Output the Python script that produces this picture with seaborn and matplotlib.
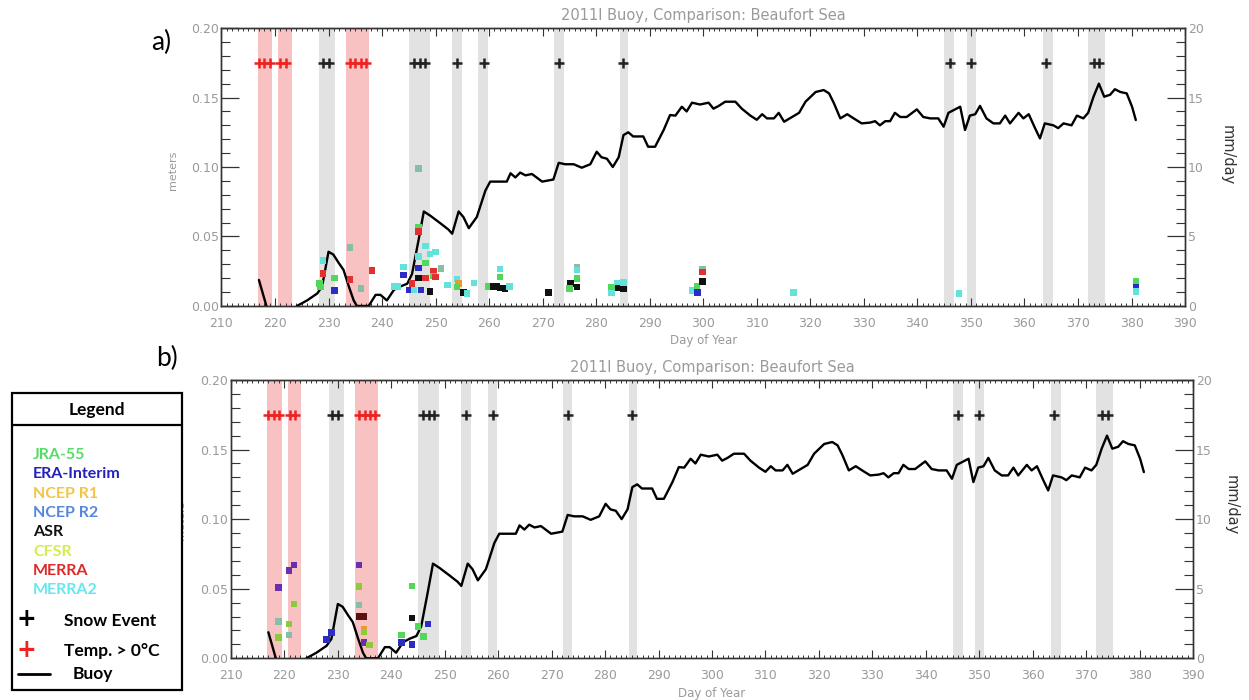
import numpy as np
import pandas as pd
import seaborn as sns
import matplotlib.pyplot as plt
from matplotlib.ticker import MultipleLocator, FormatStrFormatter
from matplotlib.patches import Rectangle
from matplotlib.lines import Line2D

sns.set_style('ticks')
plt.rcParams['font.family'] = ['DejaVu Sans']

# buoy snow depth (m)
buoy_day = [217.0, 218.4,
            224.1, 226.0, 227.9, 228.8, 230.0, 230.9, 231.9, 232.8, 233.8, 234.7, 235.3, 237.5,
            238.8, 239.7, 240.9, 242.2, 243.4, 244.7, 245.6, 246.8, 247.8, 249.0, 250.9, 252.4,
            253.1, 254.3, 255.2, 256.2, 257.7, 259.3, 260.2, 263.3, 264.0, 264.9, 265.8, 266.8,
            268.0, 269.9, 272.0, 273.0, 274.2, 275.8, 277.3, 278.9, 280.1, 281.0, 282.0, 283.1,
            284.2, 285.1, 286.0, 286.9, 288.8, 289.7, 291.0, 292.6, 293.8, 294.8, 296.0, 296.9,
            297.9, 299.4, 301.0, 301.9, 302.9, 304.1, 306.0, 307.2, 308.8, 310.0, 311.0, 311.9,
            313.2, 314.1, 315.1, 316.6, 317.9, 319.1, 321.0, 322.5, 323.5, 324.4, 325.6, 326.9,
            328.1, 329.6, 331.2, 332.1, 333.0, 334.0, 334.9, 335.8, 336.8, 338.0, 339.9, 341.1,
            342.4, 343.9, 344.9, 345.8, 348.0, 348.9, 349.8, 350.8, 351.7, 352.9, 354.2, 355.4,
            356.4, 357.3, 358.9, 359.8, 360.8, 362.0, 362.9, 363.8, 365.4, 366.3, 367.3, 368.8,
            369.8, 371.0, 371.9, 372.9, 373.9, 374.9, 376.0, 376.9, 377.9, 379.1, 380.1, 380.8]
buoy_depth = [0.0187, 0.0,
              0.0, 0.004, 0.009, 0.014, 0.039, 0.037, 0.031, 0.026, 0.014, 0.004, 0.0, 0.0,
              0.008, 0.008, 0.004, 0.0115, 0.014, 0.016, 0.023, 0.047, 0.068, 0.065, 0.0595, 0.055,
              0.052, 0.068, 0.064, 0.056, 0.064, 0.083, 0.0895, 0.0895, 0.0955, 0.0925, 0.096, 0.094,
              0.095, 0.0895, 0.091, 0.103, 0.102, 0.102, 0.0995, 0.102, 0.111, 0.107, 0.106, 0.100,
              0.107, 0.123, 0.125, 0.122, 0.122, 0.1146, 0.1146, 0.1266, 0.1374, 0.137, 0.1434, 0.140,
              0.1463, 0.145, 0.1463, 0.142, 0.144, 0.147, 0.147, 0.142, 0.137, 0.134, 0.138, 0.135,
              0.135, 0.139, 0.1326, 0.136, 0.139, 0.147, 0.154, 0.1554, 0.153, 0.146, 0.135, 0.138,
              0.135, 0.1314, 0.132, 0.133, 0.130, 0.133, 0.133, 0.139, 0.136, 0.136, 0.1415, 0.136,
              0.135, 0.135, 0.129, 0.139, 0.1434, 0.1266, 0.137, 0.138, 0.144, 0.135, 0.1314, 0.1314,
              0.137, 0.1314, 0.139, 0.135, 0.138, 0.1278, 0.1206, 0.1314, 0.130, 0.128, 0.1314, 0.130,
              0.137, 0.135, 0.139, 0.1506, 0.160, 0.1506, 0.152, 0.156, 0.154, 0.153, 0.1434, 0.1338]

snow_days = [229, 230, 246, 247, 248, 254, 259, 273, 285, 346, 350, 364, 373, 374]
warm_days = [217, 218, 219, 221, 222, 234, 235, 236, 237]

warm_start = [216.8, 220.6, 233.2]
warm_end = [219.5, 223.2, 237.6]
snow_start = [228.3, 245.0, 253.1, 258.0, 272.2, 284.5, 345.0, 349.2, 363.4, 371.9]
snow_end = [231.2, 249.0, 254.9, 259.8, 273.9, 286.0, 346.9, 350.9, 365.3, 375.0]

# reanalysis snowfall points, panel a
a_day = [228.3, 228.5, 229.0, 229.0, 231.1, 231.1, 234.0, 234.0, 236.1, 238.1,
         242.2, 243.0, 244.0, 244.0, 245.0, 245.6, 246.0, 246.8, 246.8, 246.8,
         246.8, 246.8, 246.8, 247.3, 248.1, 248.1, 248.1, 249.0, 249.0, 249.6,
         249.6, 250.0, 250.0, 251.0, 252.2, 254.0, 254.3, 254.0, 255.2, 255.9,
         257.2, 259.8, 260.8, 261.4, 262.0, 262.0, 262.0, 263.0, 263.8, 271.1,
         275.2, 275.0, 276.4, 276.4, 276.4, 276.4, 282.9, 282.9, 283.9, 284.2,
         285.1, 285.1, 297.9, 298.8, 298.9, 299.9, 299.9, 299.9, 316.9, 347.8,
         380.8, 380.8, 380.8]
a_val = [0.016, 0.0135, 0.0326, 0.0235, 0.020, 0.011, 0.042, 0.019, 0.0127, 0.0254,
         0.014, 0.014, 0.028, 0.0223, 0.0115, 0.016, 0.0115, 0.099, 0.057, 0.0535,
         0.0355, 0.0273, 0.020, 0.0115, 0.043, 0.031, 0.020, 0.0103, 0.0375, 0.025,
         0.0215, 0.039, 0.021, 0.027, 0.015, 0.0195, 0.016, 0.0135, 0.0096, 0.009,
         0.0165, 0.014, 0.014, 0.0145, 0.0265, 0.021, 0.013, 0.0126, 0.014, 0.0096,
         0.0163, 0.0127, 0.028, 0.026, 0.0197, 0.0135, 0.0137, 0.0094, 0.0165, 0.013,
         0.0125, 0.017, 0.011, 0.014, 0.0096, 0.0264, 0.0245, 0.0175, 0.0096, 0.009,
         0.018, 0.0137, 0.0105]
a_src = ['J', 'J', 'M2', 'M', 'J', 'E', 'T', 'M', 'T', 'M',
         'M2', 'M2', 'M2', 'E', 'E', 'M', 'M2', 'T', 'J', 'M',
         'M2', 'E', 'A', 'E', 'M2', 'J', 'M', 'A', 'M2', 'M',
         'J', 'M2', 'M', 'T', 'M2', 'M2', 'N1', 'J', 'A', 'M2',
         'M2', 'J', 'A', 'A', 'M2', 'J', 'A', 'A', 'M2', 'A',
         'A', 'J', 'T', 'M2', 'J', 'A', 'J', 'M2', 'M2', 'A',
         'A', 'M2', 'M2', 'J', 'E', 'T', 'M', 'A', 'M2', 'M2',
         'J', 'E', 'M2']

# panel b
b_day = [218.9, 218.9, 218.9, 220.9, 221.8, 220.9, 220.9, 221.8, 227.9, 228.8,
         234.0, 234.0, 234.0, 234.0, 234.9, 234.9, 234.9, 234.9, 235.9, 241.9,
         241.9, 243.9, 243.9, 243.9, 245.0, 246.0, 246.9]
b_val = [0.0507, 0.0263, 0.0148, 0.063, 0.067, 0.0246, 0.0167, 0.039, 0.0136, 0.0184,
         0.067, 0.0515, 0.0383, 0.030, 0.030, 0.0208, 0.019, 0.0112, 0.0096, 0.0167,
         0.0112, 0.052, 0.029, 0.0098, 0.0227, 0.0155, 0.0246]
b_src = ['P', 'T', 'O', 'P', 'P', 'O', 'T', 'O', 'E', 'E',
         'P', 'O', 'T', 'D', 'D', 'N1', 'O', 'P', 'O', 'J',
         'E', 'J', 'A', 'E', 'J', 'J', 'E']

pal = {'J': '#4fd85a', 'E': '#2c2cc4', 'A': '#111111', 'M': '#e03030',
       'M2': '#62e2da', 'N1': '#e89a30', 'P': '#6a2fb0', 'T': '#86bfa6',
       'O': '#8ccc3c', 'D': '#5a1212'}

buoy = pd.DataFrame({'day': buoy_day, 'depth': buoy_depth})
buoy['seg'] = (buoy['day'] > 220).astype(int)

grey = '#9a9a9a'
title = '2011I Buoy, Comparison: Beaufort Sea'

fig = plt.figure(figsize=(12.49, 7.0), dpi=100)
ax1 = fig.add_axes([0.1773, 0.5629, 0.7715, 0.397])
ax2 = fig.add_axes([0.1849, 0.0596, 0.7703, 0.3976])


def panel(ax, days, vals, src):
    for s, e in zip(warm_start, warm_end):
        ax.axvspan(s, e, color='#f9c2c2', lw=0, zorder=0)
    for s, e in zip(snow_start, snow_end):
        ax.axvspan(s, e, color='#e2e2e2', lw=0, zorder=0)
    sns.lineplot(data=buoy, x='day', y='depth', units='seg', estimator=None,
                 color='black', lw=1.7, ax=ax, zorder=3)
    pts = pd.DataFrame({'day': days, 'val': vals, 'src': src})
    sns.scatterplot(data=pts, x='day', y='val', hue='src', palette=pal, marker='s',
                    s=22, linewidth=0, legend=False, ax=ax, zorder=4)
    ax.plot(snow_days, [0.175] * len(snow_days), ls='none', marker='+', ms=7.5,
            mew=1.8, color='#222222', zorder=5)
    ax.plot(warm_days, [0.175] * len(warm_days), ls='none', marker='+', ms=7.5,
            mew=1.8, color='#ee2222', zorder=5)

    ax.set_xlim(210, 390)
    ax.set_ylim(0, 0.2)
    ax.set_xticks(range(210, 391, 10))
    ax.xaxis.set_minor_locator(MultipleLocator(1))
    ax.yaxis.set_major_locator(MultipleLocator(0.05))
    ax.yaxis.set_minor_locator(MultipleLocator(0.01))
    ax.yaxis.set_major_formatter(FormatStrFormatter('%.2f'))
    ax.tick_params(axis='x', which='both', direction='in', top=True, color='#333333',
                   labelcolor=grey, labelsize=9, pad=8)
    ax.tick_params(axis='x', which='major', length=5.5, width=0.8)
    ax.tick_params(axis='x', which='minor', length=2.5, width=0.7)
    ax.tick_params(axis='y', which='both', direction='in', color='#333333',
                   labelcolor=grey, labelsize=9, pad=2)
    ax.tick_params(axis='y', which='major', length=13, width=0.9)
    ax.tick_params(axis='y', which='minor', length=6.5, width=0.8)
    ax.set_xlabel('Day of Year', color=grey, fontsize=8.5, labelpad=3)
    ax.set_ylabel('')
    ax.set_title(title, color=grey, fontsize=10.5, pad=6)
    for sp in ax.spines.values():
        sp.set_color('#333333')
        sp.set_linewidth(1.0)

    tw = ax.twinx()
    tw.set_ylim(0, 20)
    tw.yaxis.set_major_locator(MultipleLocator(5))
    tw.yaxis.set_minor_locator(MultipleLocator(1))
    tw.tick_params(axis='y', which='both', direction='in', color='#333333',
                   labelcolor=grey, labelsize=9, pad=2)
    tw.tick_params(axis='y', which='major', length=13, width=0.9)
    tw.tick_params(axis='y', which='minor', length=6.5, width=0.8)
    for sp in tw.spines.values():
        sp.set_color('#333333')
        sp.set_linewidth(1.0)
    return tw


panel(ax1, a_day, a_val, a_src)
panel(ax2, b_day, b_val, b_src)

fig.text(173 / 1249, 1 - 170 / 700, 'meters', rotation=90, ha='center', va='center',
         color=grey, fontsize=8)
fig.text(181 / 1249, 1 - 520 / 700, 'meters', rotation=90, ha='center', va='center',
         color=grey, fontsize=8)
fig.text(1227 / 1249, 1 - 155 / 700, 'mm/day', rotation=270, ha='center', va='center',
         color='#333333', fontsize=10.5)
fig.text(1231 / 1249, 1 - 505 / 700, 'mm/day', rotation=270, ha='center', va='center',
         color='#333333', fontsize=10.5)

fig.text(161 / 1249, 1 - 42 / 700, 'a)', ha='center', va='center', fontsize=19,
         family='Lato', color='black')
fig.text(167 / 1249, 1 - 358 / 700, 'b)', ha='center', va='center', fontsize=19,
         family='Lato', color='black')

# legend box
leg_names = ['JRA-55', 'ERA-Interim', 'NCEP R1', 'NCEP R2', 'ASR', 'CFSR', 'MERRA', 'MERRA2']
leg_colors = ['#55dd66', '#2222bb', '#f2c544', '#5588dd', '#111111', '#d4ec50', '#e02828', '#66e6ee']

W, H = 1249, 700
box = Rectangle((12 / W, 1 - 690 / H), 170 / W, 297 / H, transform=fig.transFigure,
                facecolor='white', edgecolor='black', lw=1.6, zorder=5)
fig.add_artist(box)
fig.add_artist(Line2D([12 / W, 182 / W], [1 - 425 / H] * 2, transform=fig.transFigure,
                      color='black', lw=1.6, zorder=6))
fig.text(97 / W, 1 - 410 / H, 'Legend', ha='center', va='center', fontsize=12.5,
         family='Lato', weight='bold', color='black', zorder=7)
for i, (n, c) in enumerate(zip(leg_names, leg_colors)):
    fig.text(33 / W, 1 - (455 + i * 19.3) / H, n, ha='left', va='center', fontsize=11.5,
             family='Lato', weight='bold', color=c, zorder=7)
fig.text(26 / W, 1 - 619 / H, '+', ha='center', va='center', fontsize=17,
         weight='bold', color='black', zorder=7)
fig.text(64 / W, 1 - 621 / H, 'Snow Event', ha='left', va='center', fontsize=12.5,
         family='Lato', weight='bold', color='black', zorder=7)
fig.text(26 / W, 1 - 650 / H, '+', ha='center', va='center', fontsize=17,
         weight='bold', color='#ee2222', zorder=7)
fig.text(64 / W, 1 - 651 / H, 'Temp. > 0\u00b0C', ha='left', va='center', fontsize=12.5,
         family='Lato', weight='bold', color='black', zorder=7)
fig.add_artist(Line2D([18 / W, 50 / W], [1 - 674 / H] * 2, transform=fig.transFigure,
                      color='black', lw=2, zorder=7))
fig.text(73 / W, 1 - 674 / H, 'Buoy', ha='left', va='center', fontsize=12.5,
         family='Lato', weight='bold', color='black', zorder=7)

fig.savefig('out.png', dpi=100)
